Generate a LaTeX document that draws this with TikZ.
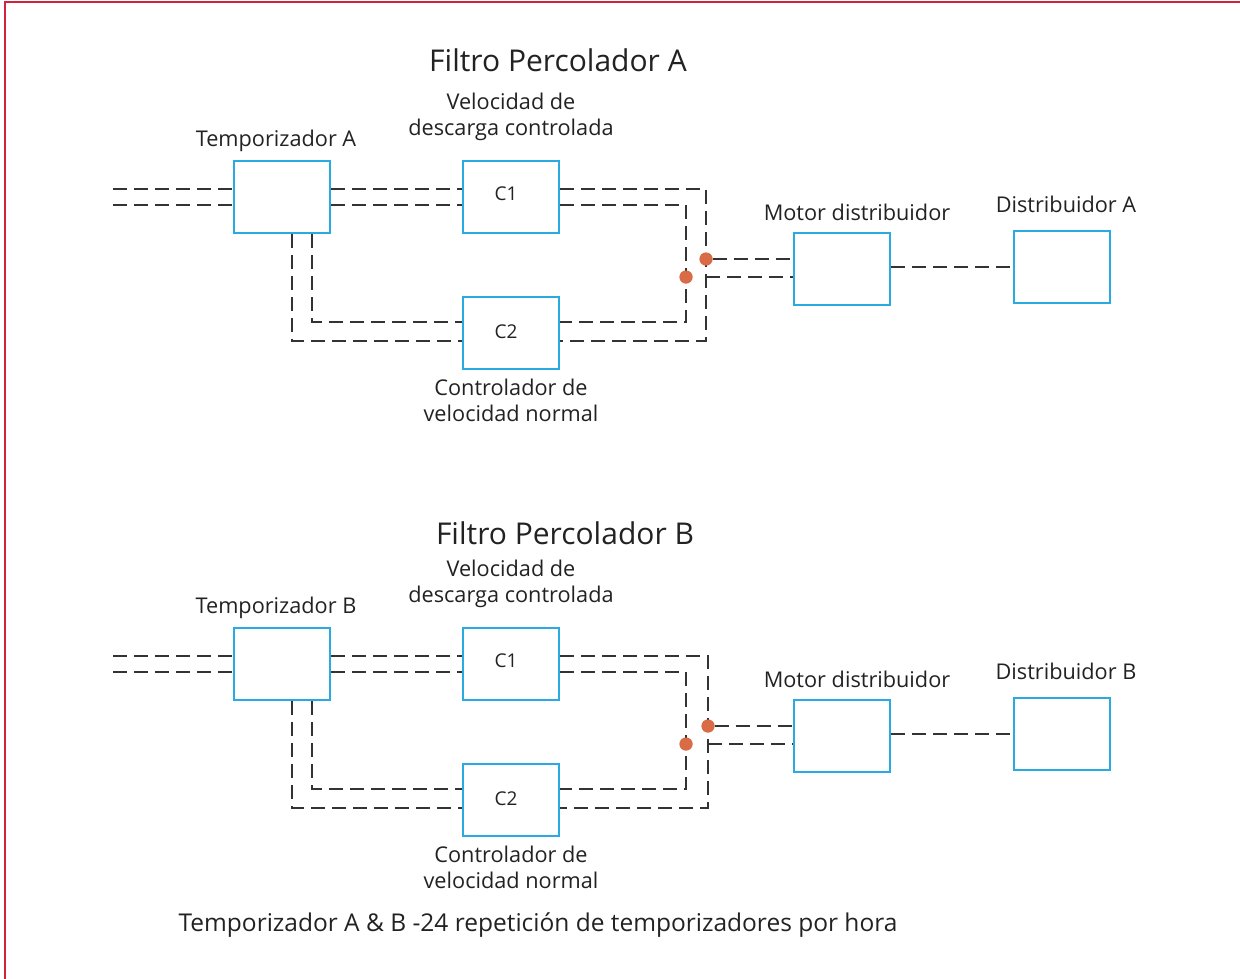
\documentclass[tikz,border=0pt]{standalone}
\usepackage{fontspec}
\setmainfont{Open Sans}
\definecolor{frame}{HTML}{D2233C}
\definecolor{boxc}{HTML}{29ABE2}
\definecolor{linec}{HTML}{333333}
\definecolor{dotc}{HTML}{D96B46}
\definecolor{txt}{HTML}{222222}
\tikzset{
  blk/.style={draw=boxc, line width=2pt, minimum width=96pt, minimum height=72pt, inner sep=0pt, text=txt, font=\fontsize{19}{22}\selectfont},
  dl/.style={draw=linec, line width=2.2pt, dash pattern=on 14pt off 7pt},
  lbl/.style={text=txt, font=\fontsize{21.7}{26}\selectfont, align=center, inner sep=0pt},
  ttl/.style={text=txt, font=\fontsize{30}{34}\selectfont, inner sep=0pt},
  jdot/.style={circle, fill=dotc, minimum size=13pt, inner sep=0pt},
}
\newcommand{\filtro}[4]{%
  \begin{scope}[name prefix=#1-, shift={(0,#2)}]
    \node[blk] (temp) at (282,197) {};
    \node[blk] (c1) at (511,197) {};
    \node[blk] (c2) at (511,333) {};
    \node[text=txt, font=\fontsize{19}{22}\selectfont, inner sep=0pt] (tc1) at (506,194) {C1};
    \node[text=txt, font=\fontsize{19}{22}\selectfont, inner sep=0pt] (tc2) at (506,332) {C2};
    \node[blk] (motor) at (842,269) {};
    \node[blk] (dist) at (1062,267) {};
    \node[lbl] (ltemp) at (276,141) {Temporizador #3};
    \node[lbl] (lc1) at (511,117) {Velocidad de\\descarga controlada};
    \node[lbl] (lc2) at (511,400) {Controlador de\\velocidad normal};
    \node[lbl] (lmotor) at (857,212) {Motor distribuidor};
    \node[lbl] (ldist) at (1066,204) {Distribuidor #3};
    \coordinate (ina) at (113,189);
    \coordinate (inb) at (113,205);
    \coordinate (o1) at (#4,189);
    \coordinate (o2) at (#4,341);
    \coordinate (i1) at (686,205);
    \coordinate (i2) at (686,322);
    \coordinate (v1) at (292,341);
    \coordinate (v2) at (312,322);
    \node[jdot] (dot1) at (#4,259) {};
    \node[jdot] (dot2) at (686,277) {};
    % input
    \draw[dl] (ina) -- (ina -| temp.west);
    \draw[dl] (inb) -- (inb -| temp.west);
    % temp to c1
    \draw[dl] (ina -| temp.east) -- (ina -| c1.west);
    \draw[dl] (inb -| temp.east) -- (inb -| c1.west);
    % temp to c2
    \draw[dl] (v1 |- temp.south) -- (v1) -- (v1 -| c2.west);
    \draw[dl] (v2 |- temp.south) -- (v2) -- (v2 -| c2.west);
    % c1 / c2 to junction
    \draw[dl] (o1 -| c1.east) -- (o1) -- (o2) -- (o2 -| c2.east);
    \draw[dl] (i1 -| c1.east) -- (i1) -- (i2) -- (i2 -| c2.east);
    % junction to motor
    \draw[dl] (dot1) -- (dot1 -| motor.west);
    \draw[dl] (dot1 |- dot2) -- (dot2 -| motor.west);
    \draw[dl] (motor.east |- dist) -- (dist.west);
    \node[jdot] at (dot1) {};
    \node[jdot] at (dot2) {};
  \end{scope}}
\begin{document}
\begin{tikzpicture}[x=1pt,y=-1pt]
  \useasboundingbox (0,0) rectangle (1240,978);
  \draw[frame, line width=2.5pt] (5,985) -- (5,2) -- (1245,2);
  \node[ttl] (titleA) at (558,60) {Filtro Percolador A};
  \node[ttl] (titleB) at (565,533) {Filtro Percolador B};
  \filtro{A}{0}{A}{706}
  \filtro{B}{467}{B}{708}
  \node[lbl, font=\fontsize{24.5}{28}\selectfont] (foot) at (538,925) {Temporizador A \& B -24 repetición de temporizadores por hora};
\end{tikzpicture}
\end{document}
